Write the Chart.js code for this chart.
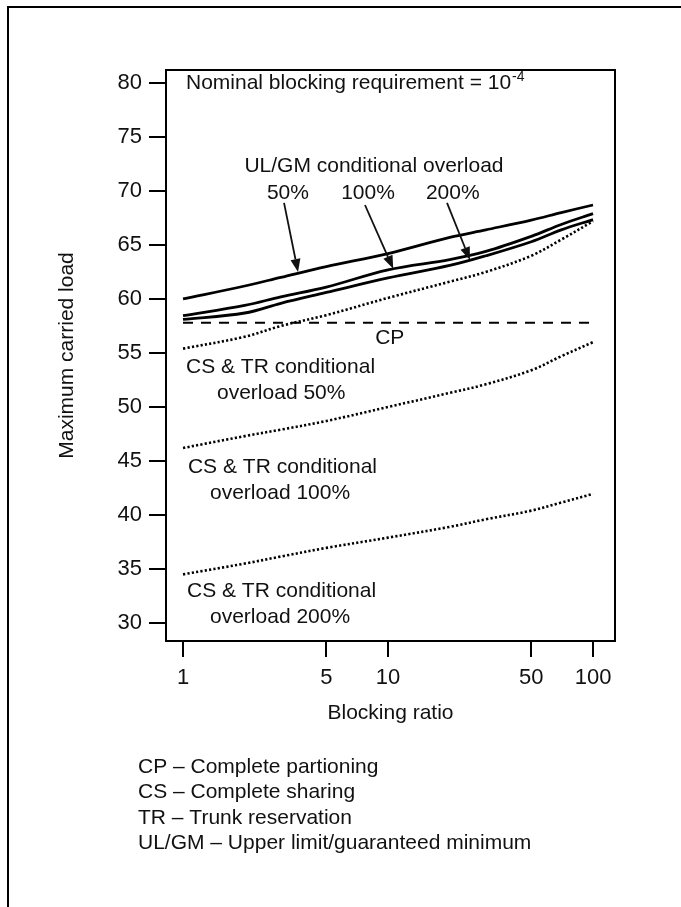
<!DOCTYPE html>
<html>
<head>
<meta charset="utf-8">
<script src="https://cdn.jsdelivr.net/npm/chart.js@4/dist/chart.umd.min.js"></script>
<style>
html,body{margin:0;padding:0;background:#ffffff;}
#wrap{width:681px;height:907px;position:relative;overflow:hidden;}
canvas{display:block;}
</style>
</head>
<body>
<div id="wrap"><canvas id="c" width="681" height="907"></canvas></div>
<script>
// ---- data ----
const blockingRatios = [1, 2, 3, 5, 10, 20, 30, 50, 70, 100];
const ulgm50  = [60.0, 61.2, 62.0, 63.0, 64.2, 65.7, 66.4, 67.3, 68.0, 68.7];
const ulgm100 = [58.45, 59.4, 60.2, 61.1, 62.7, 63.65, 64.4, 65.8, 66.9, 67.9];
const ulgm200 = [58.1, 58.7, 59.6, 60.6, 61.95, 63.1, 64.0, 65.3, 66.4, 67.35];
const cstr50  = [55.4, 56.5, 57.5, 58.5, 60.1, 61.6, 62.5, 64.0, 65.5, 67.2];
const cstr100 = [46.2, 47.3, 47.9, 48.7, 50.0, 51.3, 52.1, 53.4, 54.7, 56.0];
const cstr200 = [34.5, 35.5, 36.15, 36.95, 37.9, 38.9, 39.6, 40.4, 41.15, 41.95];
const cpLoad = 57.8;
const xTickValues = [1, 5, 10, 50, 100];
const yTickValues = [30, 35, 40, 45, 50, 55, 60, 65, 70, 75, 80];

const FONT = '"Liberation Sans", Arial, sans-serif';

const pts = vals => blockingRatios.map((r, i) => ({x: r, y: vals[i]}));
const cpPts = [{x: blockingRatios[0], y: cpLoad}, {x: blockingRatios[blockingRatios.length - 1], y: cpLoad}];

const solid = (data) => ({data, showLine: true, borderColor: '#000', borderWidth: 2.8, pointRadius: 0, tension: 0.35, fill: false});
const dotted = (data) => ({data, showLine: true, borderColor: '#000', borderWidth: 2.6, borderDash: [2.2, 2.2], pointRadius: 0, tension: 0.35, fill: false});

// annotation text / arrows in data coordinates
const textNotes = [
  {t: 'UL/GM conditional overload', x: 8.54, y: 72.3, align: 'center'},
  {t: '50%', x: 3.25, y: 69.8, align: 'center'},
  {t: '100%', x: 7.99, y: 69.8, align: 'center'},
  {t: '200%', x: 20.7, y: 69.8, align: 'center'},
  {t: 'CP', x: 10.2, y: 56.4, align: 'center'},
  {t: 'CS & TR conditional', x: 1.034, y: 53.7, align: 'left'},
  {t: 'overload 50%', x: 1.465, y: 51.3, align: 'left'},
  {t: 'CS & TR conditional', x: 1.057, y: 44.4, align: 'left'},
  {t: 'overload 100%', x: 1.354, y: 42.0, align: 'left'},
  {t: 'CS & TR conditional', x: 1.046, y: 32.96, align: 'left'},
  {t: 'overload 200%', x: 1.354, y: 30.56, align: 'left'}
];
const arrowNotes = [
  {x1: 3.11, y1: 68.9, x2: 3.64, y2: 62.5},
  {x1: 7.72, y1: 68.7, x2: 10.6, y2: 62.8},
  {x1: 19.4, y1: 68.9, x2: 25.1, y2: 63.6}
];
const legendLines = ['CP \u2013 Complete partioning', 'CS \u2013 Complete sharing', 'TR \u2013 Trunk reservation', 'UL/GM \u2013 Upper limit/guaranteed minimum'];

const notesPlugin = {
  id: 'notes',
  afterDraw(chart) {
    const ctx = chart.ctx, xs = chart.scales.x, ys = chart.scales.y, ca = chart.chartArea;
    ctx.save();
    ctx.fillStyle = '#111';
    ctx.strokeStyle = '#111';
    // title with superscript
    ctx.font = '21px ' + FONT;
    ctx.textBaseline = 'middle';
    ctx.textAlign = 'left';
    const tx = xs.getPixelForValue(1.034), ty = ys.getPixelForValue(80);
    const main = 'Nominal blocking requirement = 10';
    ctx.fillText(main, tx, ty);
    const w = ctx.measureText(main).width;
    ctx.font = '14px ' + FONT;
    ctx.fillText('-4', tx + w + 1, ty - 6);
    // notes
    ctx.font = '21px ' + FONT;
    textNotes.forEach(n => {
      ctx.textAlign = n.align;
      ctx.fillText(n.t, xs.getPixelForValue(n.x), ys.getPixelForValue(n.y));
    });
    // arrows
    ctx.lineWidth = 1.8;
    arrowNotes.forEach(a => {
      const x1 = xs.getPixelForValue(a.x1), y1 = ys.getPixelForValue(a.y1);
      const x2 = xs.getPixelForValue(a.x2), y2 = ys.getPixelForValue(a.y2);
      const ang = Math.atan2(y2 - y1, x2 - x1);
      const hl = 13, hw = 5;
      const bx = x2 - hl * Math.cos(ang), by = y2 - hl * Math.sin(ang);
      ctx.beginPath(); ctx.moveTo(x1, y1); ctx.lineTo(bx, by); ctx.stroke();
      ctx.beginPath();
      ctx.moveTo(x2, y2);
      ctx.lineTo(bx + hw * Math.sin(ang), by - hw * Math.cos(ang));
      ctx.lineTo(bx - hw * Math.sin(ang), by + hw * Math.cos(ang));
      ctx.closePath(); ctx.fill();
    });
    // legend / key lines under the chart
    ctx.textAlign = 'left';
    legendLines.forEach((l, i) => ctx.fillText(l, 138, ca.bottom + 126 + i * 25.5));
    // plot frame
    ctx.lineWidth = 2;
    ctx.strokeStyle = '#000';
    ctx.strokeRect(ca.left, ca.top, ca.right - ca.left, ca.bottom - ca.top);
    // outer frame
    ctx.strokeRect(8, 7, 720, 940);
    ctx.restore();
  }
};

new Chart(document.getElementById('c'), {
  type: 'scatter',
  data: {
    datasets: [
      solid(pts(ulgm50)),
      solid(pts(ulgm100)),
      solid(pts(ulgm200)),
      dotted(pts(cstr50)),
      dotted(pts(cstr100)),
      dotted(pts(cstr200)),
      {data: cpPts, showLine: true, borderColor: '#000', borderWidth: 2, borderDash: [10, 8], pointRadius: 0, fill: false}
    ]
  },
  options: {
    responsive: false,
    devicePixelRatio: 1,
    animation: false,
    events: [],
    layout: {padding: {left: 0, top: 70, right: 66, bottom: 166}},
    plugins: {legend: {display: false}, tooltip: {enabled: false}},
    scales: {
      x: {
        type: 'logarithmic',
        min: 0.826, max: 128,
        afterFit: s => { s.height = 100; },
        afterBuildTicks: s => { s.ticks = xTickValues.map(v => ({value: v})); },
        border: {display: false},
        grid: {drawOnChartArea: false, drawTicks: true, tickLength: 16, color: '#000', tickColor: '#000', lineWidth: 2},
        ticks: {color: '#111', font: {family: FONT, size: 22}, padding: 8, autoSkip: false, maxRotation: 0, callback: v => String(v)},
        title: {display: true, text: 'Blocking ratio', color: '#111', font: {family: FONT, size: 21}, padding: {top: 0, bottom: 15}}
      },
      y: {
        type: 'linear',
        min: 28.33, max: 81.2,
        afterFit: s => { s.width = 166; },
        afterBuildTicks: s => { s.ticks = yTickValues.map(v => ({value: v})); },
        border: {display: false},
        grid: {drawOnChartArea: false, drawTicks: true, tickLength: 17, color: '#000', tickColor: '#000', lineWidth: 2},
        ticks: {color: '#111', font: {family: FONT, size: 22}, padding: 7, callback: v => String(v)},
        title: {display: true, text: 'Maximum carried load', color: '#111', font: {family: FONT, size: 21}, padding: {top: 55, bottom: 0}}
      }
    }
  },
  plugins: [notesPlugin]
});
</script>
</body>
</html>
